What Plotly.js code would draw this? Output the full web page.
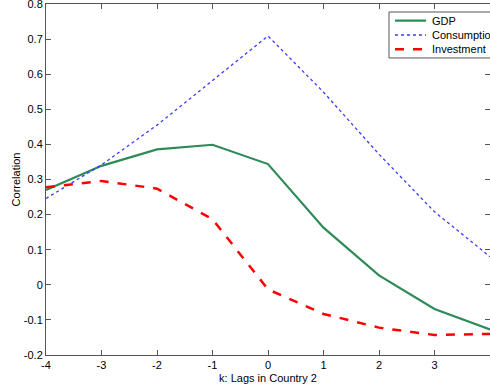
<!DOCTYPE html>
<html><head><meta charset="utf-8">
<script src="https://cdn.plot.ly/plotly-3.0.1.min.js"></script>
<style>html,body{margin:0;padding:0;background:#fff}#chart{width:490px;height:389px}</style>
</head><body><div id="chart"></div>
<script>
const lags = [-4, -3, -2, -1, 0, 1, 2, 3, 4];
const gdp = [0.270, 0.339, 0.386, 0.399, 0.344, 0.163, 0.027, -0.069, -0.127];
const consumption = [0.246, 0.342, 0.455, 0.583, 0.709, 0.549, 0.372, 0.208, 0.080];
const investment = [0.278, 0.296, 0.274, 0.187, -0.013, -0.083, -0.122, -0.143, -0.140];
const seriesNames = ['GDP', 'Consumption', 'Investment'];
const xTicks = [-4, -3, -2, -1, 0, 1, 2, 3];
const yTicks = [-0.2, -0.1, 0, 0.1, 0.2, 0.3, 0.4, 0.5, 0.6, 0.7, 0.8];

const styles = [
  {color: '#2e8b57', width: 2.2, dash: 'solid'},
  {color: '#3a3aff', width: 1.3, dash: 'dot'},
  {color: '#ff0000', width: 2.5, dash: 'dash'}
];
const series = [gdp, consumption, investment];
const traces = series.map((ys, i) => ({x: lags, y: ys, name: seriesNames[i], mode: 'lines', line: styles[i], showlegend: false}));

const axisCommon = {
  showline: true, mirror: 'ticks', linecolor: '#555', linewidth: 1,
  ticks: 'inside', ticklen: 5, tickcolor: '#555', showgrid: false, zeroline: false,
  ticklabeloverflow: 'allow',
  tickfont: {family: 'Liberation Sans, Arial', size: 11, color: '#000'}
};

// manual legend (MATLAB-style compact box)
const legY = [0.9524, 0.9117, 0.8709];
const shapes = [{type: 'rect', xref: 'paper', yref: 'paper', x0: 0.7725, x1: 1.2, y0: 0.8462, y1: 0.9772,
  line: {color: '#555', width: 1}, fillcolor: '#fff', layer: 'above'}];
const annotations = [];
seriesNames.forEach((n, i) => {
  shapes.push({type: 'line', xref: 'paper', yref: 'paper', x0: 0.786, x1: 0.856, y0: legY[i], y1: legY[i],
    line: styles[i], layer: 'above'});
  annotations.push({xref: 'paper', yref: 'paper', x: 0.865, y: legY[i], xanchor: 'left', yanchor: 'middle',
    text: n, showarrow: false, font: {family: 'Liberation Sans, Arial', size: 11, color: '#000'}});
});

const layout = {
  width: 490, height: 389,
  margin: {l: 46, r: 0, t: 4, b: 34},
  paper_bgcolor: '#fff', plot_bgcolor: '#fff',
  font: {family: 'Liberation Sans, Arial', size: 11, color: '#000'},
  showlegend: false,
  shapes: shapes, annotations: annotations,
  xaxis: Object.assign({}, axisCommon, {range: [-4, 4], tickvals: xTicks, ticktext: xTicks.map(String),
           title: {text: 'k: Lags in Country 2', font: {size: 11}, standoff: 4}}),
  yaxis: Object.assign({}, axisCommon, {range: [-0.2, 0.8001], tickvals: yTicks,
           ticktext: yTicks.map(v => v === 0 ? '0' : String(Math.round(v * 10) / 10)),
           title: {text: 'Correlation', font: {size: 11}, standoff: 0}})
};
Plotly.newPlot('chart', traces, layout, {displayModeBar: false, staticPlot: true});
</script></body></html>
